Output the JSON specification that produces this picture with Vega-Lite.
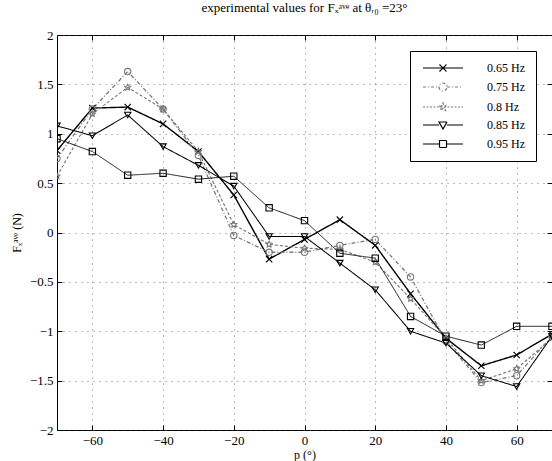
{
  "$schema": "https://vega.github.io/schema/vega-lite/v6.json",
  "width": 495,
  "height": 395,
  "autosize": "none",
  "padding": {"left": 57, "top": 35, "right": 0, "bottom": 31},
  "background": "white",
  "title": {"text": "experimental values for Fₓᵃᵛᵉ at θᵣ₀ =23°", "font": "Liberation Serif", "fontSize": 13, "fontWeight": "normal", "offset": 14, "anchor": "middle", "color": "black"},
  "config": {
    "view": {"stroke": "black", "strokeWidth": 1},
    "axis": {"labelFont": "Liberation Serif", "labelFontSize": 13, "labelColor": "black", "titleFont": "Liberation Serif", "titleFontSize": 12, "titleFontWeight": "normal", "titleColor": "black", "domain": false, "tickColor": "black", "tickSize": -5, "labelPadding": 9}
  },
  "data": {"values": [
    {"freq": "0.65 Hz", "p": -70, "F": 0.83}, {"freq": "0.65 Hz", "p": -60, "F": 1.26}, {"freq": "0.65 Hz", "p": -50, "F": 1.27}, {"freq": "0.65 Hz", "p": -40, "F": 1.10}, {"freq": "0.65 Hz", "p": -30, "F": 0.82}, {"freq": "0.65 Hz", "p": -20, "F": 0.38}, {"freq": "0.65 Hz", "p": -10, "F": -0.27}, {"freq": "0.65 Hz", "p": 0, "F": -0.07}, {"freq": "0.65 Hz", "p": 10, "F": 0.13}, {"freq": "0.65 Hz", "p": 20, "F": -0.13}, {"freq": "0.65 Hz", "p": 30, "F": -0.62}, {"freq": "0.65 Hz", "p": 40, "F": -1.07}, {"freq": "0.65 Hz", "p": 50, "F": -1.35}, {"freq": "0.65 Hz", "p": 60, "F": -1.24}, {"freq": "0.65 Hz", "p": 70, "F": -1.03},
    {"freq": "0.75 Hz", "p": -70, "F": 0.75}, {"freq": "0.75 Hz", "p": -60, "F": 1.25}, {"freq": "0.75 Hz", "p": -50, "F": 1.63}, {"freq": "0.75 Hz", "p": -40, "F": 1.25}, {"freq": "0.75 Hz", "p": -30, "F": 0.78}, {"freq": "0.75 Hz", "p": -20, "F": -0.03}, {"freq": "0.75 Hz", "p": -10, "F": -0.2}, {"freq": "0.75 Hz", "p": 0, "F": -0.2}, {"freq": "0.75 Hz", "p": 10, "F": -0.13}, {"freq": "0.75 Hz", "p": 20, "F": -0.07}, {"freq": "0.75 Hz", "p": 30, "F": -0.45}, {"freq": "0.75 Hz", "p": 40, "F": -1.1}, {"freq": "0.75 Hz", "p": 50, "F": -1.52}, {"freq": "0.75 Hz", "p": 60, "F": -1.45}, {"freq": "0.75 Hz", "p": 70, "F": -1.05},
    {"freq": "0.8 Hz", "p": -70, "F": 0.57}, {"freq": "0.8 Hz", "p": -60, "F": 1.2}, {"freq": "0.8 Hz", "p": -50, "F": 1.47}, {"freq": "0.8 Hz", "p": -40, "F": 1.25}, {"freq": "0.8 Hz", "p": -30, "F": 0.82}, {"freq": "0.8 Hz", "p": -20, "F": 0.08}, {"freq": "0.8 Hz", "p": -10, "F": -0.12}, {"freq": "0.8 Hz", "p": 0, "F": -0.16}, {"freq": "0.8 Hz", "p": 10, "F": -0.17}, {"freq": "0.8 Hz", "p": 20, "F": -0.3}, {"freq": "0.8 Hz", "p": 30, "F": -0.67}, {"freq": "0.8 Hz", "p": 40, "F": -1.07}, {"freq": "0.8 Hz", "p": 50, "F": -1.5}, {"freq": "0.8 Hz", "p": 60, "F": -1.38}, {"freq": "0.8 Hz", "p": 70, "F": -1.07},
    {"freq": "0.85 Hz", "p": -70, "F": 1.08}, {"freq": "0.85 Hz", "p": -60, "F": 0.98}, {"freq": "0.85 Hz", "p": -50, "F": 1.19}, {"freq": "0.85 Hz", "p": -40, "F": 0.87}, {"freq": "0.85 Hz", "p": -30, "F": 0.68}, {"freq": "0.85 Hz", "p": -20, "F": 0.47}, {"freq": "0.85 Hz", "p": -10, "F": -0.04}, {"freq": "0.85 Hz", "p": 0, "F": -0.04}, {"freq": "0.85 Hz", "p": 10, "F": -0.31}, {"freq": "0.85 Hz", "p": 20, "F": -0.58}, {"freq": "0.85 Hz", "p": 30, "F": -1.0}, {"freq": "0.85 Hz", "p": 40, "F": -1.12}, {"freq": "0.85 Hz", "p": 50, "F": -1.45}, {"freq": "0.85 Hz", "p": 60, "F": -1.56}, {"freq": "0.85 Hz", "p": 70, "F": -1.05},
    {"freq": "0.95 Hz", "p": -70, "F": 0.95}, {"freq": "0.95 Hz", "p": -60, "F": 0.82}, {"freq": "0.95 Hz", "p": -50, "F": 0.58}, {"freq": "0.95 Hz", "p": -40, "F": 0.6}, {"freq": "0.95 Hz", "p": -30, "F": 0.54}, {"freq": "0.95 Hz", "p": -20, "F": 0.57}, {"freq": "0.95 Hz", "p": -10, "F": 0.25}, {"freq": "0.95 Hz", "p": 0, "F": 0.12}, {"freq": "0.95 Hz", "p": 10, "F": -0.21}, {"freq": "0.95 Hz", "p": 20, "F": -0.26}, {"freq": "0.95 Hz", "p": 30, "F": -0.85}, {"freq": "0.95 Hz", "p": 40, "F": -1.05}, {"freq": "0.95 Hz", "p": 50, "F": -1.14}, {"freq": "0.95 Hz", "p": 60, "F": -0.95}, {"freq": "0.95 Hz", "p": 70, "F": -0.95}
  ]},
  "resolve": {"axis": {"x": "independent", "y": "independent"}, "scale": {"color": "independent", "shape": "independent", "strokeDash": "independent", "strokeWidth": "independent"}},
  "layer": [
    {
      "mark": {"type": "line", "clip": true},
      "encoding": {
        "x": {"field": "p", "type": "quantitative", "scale": {"domain": [-70, 70], "nice": false, "zero": false},
              "axis": {"orient": "bottom", "values": [-60, -40, -20, 0, 20, 40, 60], "title": "p (°)", "titlePadding": 2, "grid": true, "gridColor": "#555", "gridDash": [1, 5], "gridOpacity": 0.8}},
        "y": {"field": "F", "type": "quantitative", "scale": {"domain": [-2, 2], "nice": false},
              "axis": {"orient": "left", "values": [-2, -1.5, -1, -0.5, 0, 0.5, 1, 1.5, 2], "format": "~g", "title": "Fₓᵃᵛᵉ (N)", "titlePadding": 6, "grid": true, "gridColor": "#555", "gridDash": [1, 5], "gridOpacity": 0.8}},
        "color": {"field": "freq", "type": "nominal", "scale": {"domain": ["0.65 Hz", "0.75 Hz", "0.8 Hz", "0.85 Hz", "0.95 Hz"], "range": ["#000000", "#777777", "#777777", "#000000", "#000000"]}, "legend": null},
        "strokeDash": {"field": "freq", "type": "nominal", "scale": {"domain": ["0.65 Hz", "0.75 Hz", "0.8 Hz", "0.85 Hz", "0.95 Hz"], "range": [[1, 0], [4, 2, 1, 2], [3, 2], [1, 0], [1, 0]]}, "legend": null},
        "strokeWidth": {"field": "freq", "type": "nominal", "scale": {"domain": ["0.65 Hz", "0.75 Hz", "0.8 Hz", "0.85 Hz", "0.95 Hz"], "range": [1.4, 0.9, 0.9, 1.4, 1.3]}, "legend": null}
      }
    },
    {
      "mark": {"type": "point", "filled": false, "size": 40, "strokeWidth": 1.1, "opacity": 1, "clip": true},
      "encoding": {
        "x": {"field": "p", "type": "quantitative", "axis": {"orient": "top", "values": [-60, -40, -20, 0, 20, 40, 60], "labels": false, "title": null, "grid": false}},
        "y": {"field": "F", "type": "quantitative", "axis": {"orient": "right", "values": [-1.5, -1, -0.5, 0, 0.5, 1, 1.5], "labels": false, "title": null, "grid": false}},
        "color": {"field": "freq", "type": "nominal", "scale": {"domain": ["0.65 Hz", "0.75 Hz", "0.8 Hz", "0.85 Hz", "0.95 Hz"], "range": ["#000000", "#777777", "#777777", "#000000", "#000000"]}, "legend": null},
        "shape": {"field": "freq", "type": "nominal", "legend": null, "scale": {"domain": ["0.65 Hz", "0.75 Hz", "0.8 Hz", "0.85 Hz", "0.95 Hz"], "range": ["M-1,-1L1,1M-1,1L1,-1", "circle", "M0,-1L0.294,-0.405L0.951,-0.309L0.476,0.155L0.588,0.809L0,0.5L-0.588,0.809L-0.476,0.155L-0.951,-0.309L-0.294,-0.405Z", "triangle-down", "square"]}}
      }
    },
    {
      "transform": [{"filter": "datum.p > 1000"}],
      "mark": {"type": "point", "filled": false, "size": 100, "strokeWidth": 1.2, "opacity": 1},
      "encoding": {
        "color": {"field": "freq", "type": "nominal", "scale": {"domain": ["0.65 Hz", "0.75 Hz", "0.8 Hz", "0.85 Hz", "0.95 Hz"], "range": ["#000000", "#777777", "#777777", "#000000", "#000000"]},
                  "legend": {"title": null, "orient": "top-right", "offset": 16, "strokeColor": "black", "fillColor": "white", "padding": 11, "symbolSize": 100, "symbolOffset": 16, "labelOffset": 38, "rowPadding": 6, "labelFont": "Liberation Serif", "labelFontSize": 12, "labelColor": "black", "symbolStrokeWidth": 1.2, "symbolOpacity": 1}},
        "strokeDash": {"field": "freq", "type": "nominal", "scale": {"domain": ["0.65 Hz", "0.75 Hz", "0.8 Hz", "0.85 Hz", "0.95 Hz"], "range": [[1, 0], [3, 2, 1, 2], [2, 1.5], [1, 0], [1, 0]]},
                  "legend": {"title": null, "orient": "top-right", "offset": 16, "strokeColor": "black", "fillColor": "white", "padding": 11, "symbolSize": 100, "symbolOffset": 16, "labelOffset": 38, "rowPadding": 6, "labelFont": "Liberation Serif", "labelFontSize": 12, "labelColor": "black", "symbolStrokeWidth": 1.2, "symbolOpacity": 1}},
        "shape": {"field": "freq", "type": "nominal", "scale": {"domain": ["0.65 Hz", "0.75 Hz", "0.8 Hz", "0.85 Hz", "0.95 Hz"], "range": [
                    "M-4,0L4,0M-0.7,-0.7L0.7,0.7M-0.7,0.7L0.7,-0.7",
                    "M-4,0L-0.8,0M0.8,0L4,0M-0.8,0A0.8,0.8,0,1,0,0.8,0A0.8,0.8,0,1,0,-0.8,0",
                    "M-4,0L4,0M0,-0.8L0.2,-0.25L0.76,-0.25L0.3,0.1L0.47,0.65L0,0.32L-0.47,0.65L-0.3,0.1L-0.76,-0.25L-0.2,-0.25Z",
                    "M-4,0L-0.8,0M0.8,0L4,0M-0.8,-0.6L0.8,-0.6L0,0.8Z",
                    "M-4,0L-0.7,0M0.7,0L4,0M-0.7,-0.7L0.7,-0.7L0.7,0.7L-0.7,0.7Z"]},
                  "legend": {"title": null, "orient": "top-right", "offset": 16, "strokeColor": "black", "fillColor": "white", "padding": 11, "symbolSize": 100, "symbolOffset": 16, "labelOffset": 38, "rowPadding": 6, "labelFont": "Liberation Serif", "labelFontSize": 12, "labelColor": "black", "symbolStrokeWidth": 1.2, "symbolOpacity": 1}}
      }
    }
  ]
}
